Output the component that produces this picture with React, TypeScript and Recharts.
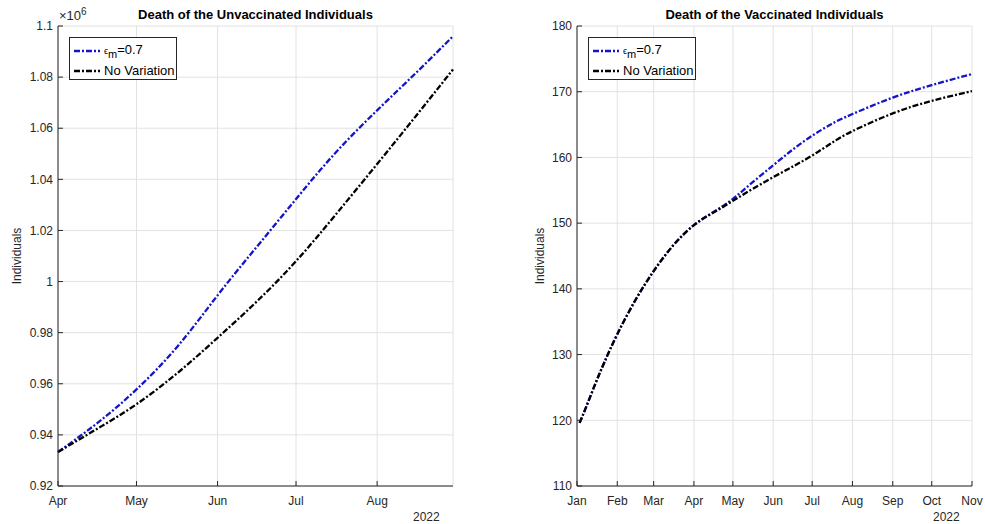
import { LineChart, Line, XAxis, YAxis, CartesianGrid, Legend } from "recharts"

// day offsets (days since Apr 1 2022) for the unvaccinated panel
const unvaxDays = [0, 15, 30, 46, 61, 76, 91, 106, 122, 137, 151]
const unvaxEps = [933300, 944600, 957800, 975000, 994600, 1013600, 1032300, 1050300, 1067000, 1081800, 1096000]
const unvaxBase = [933300, 942400, 952000, 964500, 978000, 992200, 1008000, 1026000, 1046000, 1065000, 1083000]
const unvaxMonthTicks = [0, 30, 61, 91, 122]
const unvaxMonthNames = ["Apr", "May", "Jun", "Jul", "Aug"]
const unvaxYTicks = [920000, 940000, 960000, 980000, 1000000, 1020000, 1040000, 1060000, 1080000, 1100000]

// day offsets (days since Jan 1 2022) for the vaccinated panel
const vaxDays = [2, 7, 14, 21, 31, 45, 59, 74, 90, 105, 120, 135, 151, 166, 181, 196, 212, 243, 273, 304]
const vaxEps = [119.6, 122.0, 125.5, 128.8, 133.1, 138.3, 142.7, 146.6, 149.7, 151.7, 153.7, 156.2, 158.8, 161.2, 163.3, 165.1, 166.6, 169.1, 171.0, 172.7]
const vaxBase = [119.6, 122.0, 125.5, 128.8, 133.1, 138.3, 142.7, 146.6, 149.7, 151.6, 153.4, 155.2, 157.0, 158.6, 160.3, 162.2, 164.0, 166.7, 168.6, 170.1]
const vaxMonthTicks = [0, 31, 59, 90, 120, 151, 181, 212, 243, 273, 304]
const vaxMonthNames = ["Jan", "Feb", "Mar", "Apr", "May", "Jun", "Jul", "Aug", "Sep", "Oct", "Nov"]
const vaxYTicks = [110, 120, 130, 140, 150, 160, 170, 180]

const FONT = "'Liberation Sans', Arial, Helvetica, sans-serif"
const INK = "#262626"
const GRID = "#e2e2e2"
const BLUE = "#1414c8"
const DASH = "6 2 2 2"

const unvaxData = unvaxDays.map((d, i) => ({ day: d, eps: unvaxEps[i], base: unvaxBase[i] }))
const vaxData = vaxDays.map((d, i) => ({ day: d, eps: vaxEps[i], base: vaxBase[i] }))

const tickStyle = { fontSize: 12, fill: INK, fontFamily: FONT }

const LegendBox = () => (
  <div
    style={{
      border: `1px solid ${INK}`,
      background: "#fff",
      width: 108,
      height: 43,
      fontFamily: FONT,
      fontSize: 13,
      color: "#000",
      boxSizing: "border-box",
      padding: "2px 0 0 4px",
      lineHeight: "20px",
      whiteSpace: "nowrap",
    }}
  >
    <div style={{ display: "flex", alignItems: "center" }}>
      <svg width={26} height={6} style={{ marginRight: 4 }}>
        <line x1={0} y1={3} x2={26} y2={3} stroke={BLUE} strokeWidth={2.3} strokeDasharray={DASH} />
      </svg>
      <span>
        <span style={{ fontSize: 9 }}>ϵ</span>
        <sub style={{ fontSize: 11, lineHeight: 0 }}>m</sub>=0.7
      </span>
    </div>
    <div style={{ display: "flex", alignItems: "center" }}>
      <svg width={26} height={6} style={{ marginRight: 4 }}>
        <line x1={0} y1={3} x2={26} y2={3} stroke="#000" strokeWidth={2.3} strokeDasharray={DASH} />
      </svg>
      <span>No Variation</span>
    </div>
  </div>
)

const label = (text: string, style: React.CSSProperties) => (
  <div style={{ position: "absolute", fontFamily: FONT, color: INK, whiteSpace: "nowrap", ...style }}>{text}</div>
)

interface PanelProps {
  data: any[]
  xMax: number
  xTicks: number[]
  xNames: string[]
  yDomain: [number, number]
  yTicks: number[]
  yFormat: (v: number) => string
  width: number
  marginRight: number
  yWidth: number
}

const Panel = ({ data, xMax, xTicks, xNames, yDomain, yTicks, yFormat, width, marginRight, yWidth }: PanelProps) => (
  <LineChart width={width} height={524} data={data} margin={{ top: 26, right: marginRight, bottom: 8, left: 0 }}>
    <CartesianGrid stroke={GRID} strokeWidth={1} />
    <XAxis
      dataKey="day"
      type="number"
      domain={[0, xMax]}
      ticks={xTicks}
      tickFormatter={(v: number) => xNames[xTicks.indexOf(v)] ?? ""}
      height={30}
      tickSize={-5}
      tickMargin={15}
      tick={tickStyle}
      stroke={INK}
      interval={0}
    />
    <XAxis xAxisId="top" orientation="top" type="number" domain={[0, xMax]} ticks={xTicks} height={0} tick={false} tickSize={-5} stroke={INK} allowDataOverflow />
    <YAxis
      type="number"
      domain={yDomain}
      ticks={yTicks}
      tickFormatter={yFormat}
      width={yWidth}
      tickSize={-5}
      tickMargin={10}
      tick={tickStyle}
      stroke={INK}
      interval={0}
      allowDataOverflow
    />
    <YAxis yAxisId="right" orientation="right" type="number" domain={yDomain} ticks={yTicks} width={0} tick={false} tickSize={-5} stroke={INK} allowDataOverflow />
    <Legend
      layout="vertical"
      align="center"
      verticalAlign="middle"
      content={<LegendBox />}
      wrapperStyle={{ left: yWidth + 11, top: 37, width: 108 }}
    />
    <Line dataKey="eps" type="natural" stroke={BLUE} strokeWidth={2.3} strokeDasharray={DASH} dot={false} isAnimationActive={false} />
    <Line dataKey="base" type="natural" stroke="#000" strokeWidth={2.3} strokeDasharray={DASH} dot={false} isAnimationActive={false} />
  </LineChart>
)

export default function App() {
  return (
    <div style={{ position: "absolute", left: 0, top: 0, width: 985, height: 524, background: "#fff", overflow: "hidden" }}>
      <div style={{ position: "absolute", left: 0, top: 0 }}>
        <Panel
          data={unvaxData}
          xMax={151}
          xTicks={unvaxMonthTicks}
          xNames={unvaxMonthNames}
          yDomain={[920000, 1100000]}
          yTicks={unvaxYTicks}
          yFormat={(v: number) => String(parseFloat((v / 1e6).toFixed(2)))}
          width={490}
          marginRight={37}
          yWidth={58}
        />
      </div>
      <div style={{ position: "absolute", left: 520, top: 0 }}>
        <Panel
          data={vaxData}
          xMax={304}
          xTicks={vaxMonthTicks}
          xNames={vaxMonthNames}
          yDomain={[110, 180]}
          yTicks={vaxYTicks}
          yFormat={(v: number) => String(v)}
          width={465}
          marginRight={13}
          yWidth={57}
        />
      </div>

      {label("Death of the Unvaccinated Individuals", { left: 58, width: 395, top: 7, textAlign: "center", fontWeight: "bold", fontSize: 13, color: "#000" })}
      {label("Death of the Vaccinated Individuals", { left: 577, width: 395, top: 7, textAlign: "center", fontWeight: "bold", fontSize: 13, color: "#000" })}

      <div style={{ position: "absolute", left: 59, top: 8, fontFamily: FONT, fontSize: 13, color: INK, lineHeight: "16px" }}>
        ×10<sup style={{ fontSize: 10, lineHeight: 0 }}>6</sup>
      </div>

      {label("2022", { left: 413, top: 511, fontSize: 12, lineHeight: "13px" })}
      {label("2022", { left: 933, top: 511, fontSize: 12, lineHeight: "13px" })}

      {label("Individuals", { left: 17, top: 256, fontSize: 12, transform: "translate(-50%, -50%) rotate(-90deg)" })}
      {label("Individuals", { left: 540, top: 256, fontSize: 12, transform: "translate(-50%, -50%) rotate(-90deg)" })}
    </div>
  )
}
